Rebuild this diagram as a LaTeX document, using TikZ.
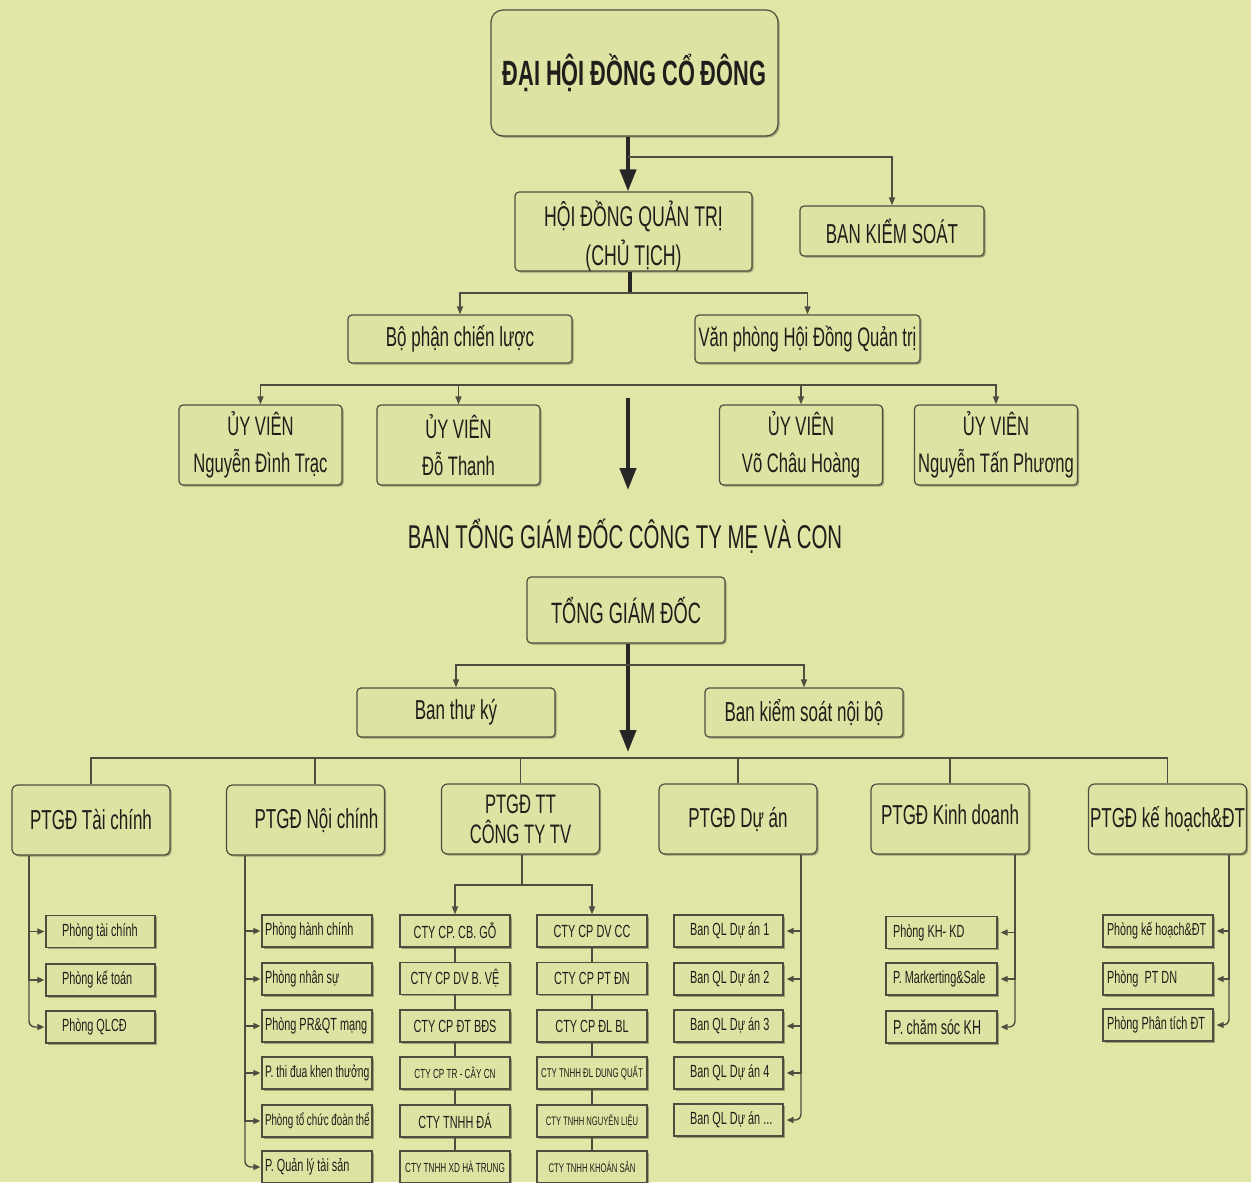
\documentclass[tikz,border=0pt]{standalone}
\usepackage{fontspec}
\setmainfont{Liberation Sans}[FakeStretch=0.62]
\usetikzlibrary{arrows.meta,shadows}
\definecolor{bg}{HTML}{E1E6A7}
\definecolor{bxf}{HTML}{DEE3A3}
\definecolor{ln}{HTML}{4E4E40}
\definecolor{tx}{HTML}{1E1E1A}
\newcommand\lft[2]{\makebox[#1][l]{#2}}
\newcommand\fs[2]{\fontsize{\fpeval{round(#1*1.097,2)}}{#2}\selectfont}
\begin{document}
\begin{tikzpicture}[x=0.5pt,y=-0.5pt,
  box/.style={draw=ln, line width=0.6pt, fill=bxf, text=tx, inner sep=0pt, align=center,
    drop shadow={shadow xshift=0.8pt,shadow yshift=-0.8pt,fill=black,opacity=0.3}},
  rbox/.style={box, rounded corners=2pt},
  big/.style={box, rounded corners=6pt},
  mid/.style={rbox, font=\fs{12.5}{18.5}},
  ptg/.style={box, rounded corners=3pt, minimum width=79pt, minimum height=35pt, font=\fs{12.5}{15}},
  cbox/.style={box, minimum width=55pt, minimum height=16pt, font=\fs{8}{9}},
  lbox/.style={box, minimum height=16pt, font=\fs{8}{9}},
  colA/.style={lbox, inner xsep=8pt},
  colB/.style={lbox, inner xsep=1.5pt},
  colD/.style={lbox, inner xsep=8pt},
  colK/.style={lbox, inner xsep=3.5pt},
  colH/.style={lbox, inner xsep=2pt},
  thickarr/.style={line width=2pt, draw=black!85, -{Triangle[length=11pt,width=8pt]}},
  thickline/.style={line width=2pt, draw=black!85},
  conn/.style={draw=ln, line width=0.7pt},
  arr/.style={conn, -{Triangle[length=4pt,width=3pt]}},
  arrs/.style={conn, -{Triangle[length=3.5pt,width=3pt]}, shorten >=0.5pt}
]
\fill[bg] (0,0) rectangle (1251,1182);
\useasboundingbox (0,0) rectangle (1251,1182);

% ---- top
\node[big, minimum width=143.5pt, minimum height=63pt, font=\bfseries\fs{16}{18}] (dhdc) at (634.5,73) {ĐẠI HỘI ĐỒNG CỔ ĐÔNG};
\node[rbox, minimum width=118.5pt, minimum height=38.5pt, font=\fs{13}{19.5}] (hdqt) at (633.5,231.5) {\rule{0pt}{17pt}HỘI ĐỒNG QUẢN TRỊ\\(CHỦ TỊCH)};
\node[rbox, minimum width=92pt, minimum height=25pt, font=\fs{12.5}{15}] (bks) at (892,231) {BAN KIỂM SOÁT};

\coordinate (a1) at (628,157);
\draw[thickarr] (dhdc.south -| a1) -- (hdqt.north -| a1);
\draw[arr] (a1) -| (bks.north);

\node[mid, minimum width=112pt, minimum height=24pt] (bp) at (460,339) {Bộ phận chiến lược};
\node[mid, minimum width=112.5pt, minimum height=24pt, font=\fs{12.2}{15}] (vp) at (807.5,339) {Văn phòng Hội Đồng Quản trị};

\coordinate (a2) at (630,293);
\draw[thickline] (hdqt.south -| a2) -- (a2);
\draw[arr] (a2) -| (bp.north);
\draw[arr] (a2) -| (vp.north);

\node[mid, minimum width=81.5pt, minimum height=40pt, font=\fs{12.2}{18.5}] (uv1) at (260.5,445) {ỦY VIÊN\\Nguyễn Đình Trạc};
\node[mid, minimum width=81.5pt, minimum height=40pt, font=\fs{12.2}{18.5}] (uv2) at (458.5,445) {ỦY VIÊN\\Đỗ Thanh};
\node[mid, minimum width=81.5pt, minimum height=40pt, font=\fs{12.2}{18.5}] (uv3) at (801,445) {ỦY VIÊN\\Võ Châu Hoàng};
\node[mid, minimum width=81.5pt, minimum height=40pt, font=\fs{12.2}{18.5}] (uv4) at (996,445) {ỦY VIÊN\\Nguyễn Tấn Phương};

\coordinate (a3) at (628,385);
\draw[arr] (a3) -| (uv1.north);
\draw[arr] (a3) -| (uv2.north);
\draw[arr] (a3) -| (uv3.north);
\draw[arr] (a3) -| (uv4.north);

\coordinate (a4) at (628,398);
\coordinate (a5) at (628,490);
\draw[thickarr] (a4) -- (a5);

% ---- middle
\node[text=tx, font=\fs{15}{18}, inner sep=0pt] (title) at (625,536) {BAN TỔNG GIÁM ĐỐC CÔNG TY MẸ VÀ CON};

\node[rbox, minimum width=99pt, minimum height=33pt, font=\fs{13.4}{16}] (tgd) at (626,610) {TỔNG GIÁM ĐỐC};
\node[mid, minimum width=99pt, minimum height=24.5pt] (btk) at (456,712.5) {Ban thư ký};
\node[mid, minimum width=99pt, minimum height=24.5pt] (bksnb) at (804,712.5) {Ban kiểm soát nội bộ};

\coordinate (a6) at (628,665);
\coordinate (a7) at (628,752);
\draw[thickarr] (tgd.south -| a6) -- (a7);
\draw[arr] (a6) -| (btk.north);
\draw[arr] (a6) -| (bksnb.north);

% ---- PTGD row
\node[ptg] (p1) at (91,820) {PTGĐ Tài chính};
\node[ptg] (p2) at (305.5,820) {\hspace*{11pt}PTGĐ Nội chính};
\node[ptg, font=\fs{12.2}{15}] (p3) at (520.5,819) {PTGĐ TT\\CÔNG TY TV};
\node[ptg] (p4) at (738,819) {PTGĐ Dự án};
\node[ptg] (p5) at (950,819) {PTGĐ Kinh doanh\rule[-4pt]{0pt}{0pt}};
\node[ptg] (p6) at (1167.5,819) {PTGĐ kế hoạch\&ĐT};

\coordinate (b0) at (628,758);
\draw[conn] (b0) -| (p1.north);
\draw[conn] (b0) -| ([xshift=4.75pt]p2.north);
\draw[conn] (b0) -| (p3.north);
\draw[conn] (b0) -| (p4.north);
\draw[conn] (b0) -| (p5.north);
\draw[conn] (b0) -| (p6.north);

% ---- column A
\coordinate (vA) at (29,0);
\node[colA] (tc1) at (100.5,931.5) {\lft{38.5pt}{Phòng tài chính}};
\node[colA] (tc2) at (100.5,980) {\lft{38.5pt}{Phòng kế toán}};
\node[colA] (tc3) at (100.5,1027) {\lft{38.5pt}{Phòng QLCĐ}};
\draw[arrs] (p1.south -| vA) |- (tc1.west);
\draw[arrs] (p1.south -| vA) |- (tc2.west);
\draw[arrs, rounded corners=3pt] (p1.south -| vA) |- (tc3.west);

% ---- column B
\coordinate (vB) at (245,0);
\node[colB] (nc1) at (317,931) {\lft{52pt}{Phòng hành chính}};
\node[colB] (nc2) at (317,979) {\lft{52pt}{Phòng nhân sự}};
\node[colB] (nc3) at (317,1026) {\lft{52pt}{Phòng PR\&QT mạng}};
\node[colB, font=\fs{7.6}{9}] (nc4) at (317,1073) {\lft{52pt}{P. thi đua khen thưởng}};
\node[colB, font=\fs{7.2}{9}] (nc5) at (317,1121) {\lft{52pt}{Phòng tổ chức đoàn thể}};
\node[colB] (nc6) at (317,1167) {\lft{52pt}{P. Quản lý tài sản}};
\foreach \i in {1,...,5}{\draw[arrs] (p2.south -| vB) |- (nc\i.west);}
\draw[arrs, rounded corners=3pt] (p2.south -| vB) |- (nc6.west);

% ---- CTY columns
\node[cbox] (c1) at (455,931) {CTY CP. CB. GỖ};
\node[cbox] (c2) at (455,978.5) {CTY CP DV B. VỆ};
\node[cbox] (c3) at (455,1026) {CTY CP ĐT BĐS};
\node[cbox, font=\fs{6}{8}] (c4) at (455,1073) {CTY CP TR - CÂY CN};
\node[cbox] (c5) at (455,1121) {CTY TNHH ĐÁ};
\node[cbox, font=\fs{6}{8}] (c6) at (455,1167) {CTY TNHH XD HÀ TRUNG};
\node[cbox] (d1) at (592,931) {CTY CP DV CC};
\node[cbox] (d2) at (592,978.5) {CTY CP PT ĐN};
\node[cbox] (d3) at (592,1026) {CTY CP ĐL BL};
\node[cbox, font=\fs{5.8}{8}] (d4) at (592,1073) {CTY TNHH ĐL DUNG QUẤT};
\node[cbox, font=\fs{5.6}{8}] (d5) at (592,1121) {CTY TNHH NGUYÊN LIỆU};
\node[cbox, font=\fs{5.7}{8}] (d6) at (592,1167) {CTY TNHH KHOÁN SẢN};
\coordinate (jT) at (522,885);
\draw[conn] (p3.south -| jT) -- (jT);
\draw[arr] (jT) -| (c1.north);
\draw[arr] (jT) -| (d1.north);
\foreach \i/\j in {1/2,2/3,3/4,4/5,5/6}{
  \draw[conn] (c\i.south) -- (c\j.north);
  \draw[conn] (d\i.south) -- (d\j.north);
}

% ---- column D
\coordinate (vD) at (801,0);
\node[colD] (da1) at (728.5,931) {\lft{38.5pt}{Ban QL Dự án 1}};
\node[colD] (da2) at (728.5,979) {\lft{38.5pt}{Ban QL Dự án 2}};
\node[colD] (da3) at (728.5,1026) {\lft{38.5pt}{Ban QL Dự án 3}};
\node[colD] (da4) at (728.5,1073) {\lft{38.5pt}{Ban QL Dự án 4}};
\node[colD] (da5) at (728.5,1120) {\lft{38.5pt}{Ban QL Dự án ...}};
\foreach \i in {1,...,4}{\draw[arrs, shorten >=1.5pt] (p4.south -| vD) |- (da\i.east);}
\draw[arrs, shorten >=1.5pt, rounded corners=3pt] (p4.south -| vD) |- (da5.east);

% ---- column K
\coordinate (vK) at (1015,0);
\node[colK] (kd1) at (941.5,932.5) {\lft{48.5pt}{Phòng KH- KD}};
\node[colK] (kd2) at (941.5,979) {\lft{48.5pt}{P. Markerting\&Sale}};
\node[colK, font=\fs{9.2}{10}] (kd3) at (941.5,1027) {\lft{48.5pt}{P. chăm sóc KH}};
\draw[arrs, shorten >=1.5pt] (p5.south -| vK) |- (kd1.east);
\draw[arrs, shorten >=1.5pt] (p5.south -| vK) |- (kd2.east);
\draw[arrs, shorten >=1.5pt, rounded corners=3pt] (p5.south -| vK) |- (kd3.east);

% ---- column H
\coordinate (vH) at (1229,0);
\node[colH, font=\fs{7.9}{9}] (kh1) at (1158,931) {\lft{51pt}{Phòng kế hoạch\&ĐT}};
\node[colH] (kh2) at (1158,979) {\lft{51pt}{Phòng\ \ PT DN}};
\node[colH] (kh3) at (1158,1025) {\lft{51pt}{Phòng Phân tích ĐT}};
\draw[arrs, shorten >=1.5pt] (p6.south -| vH) |- (kh1.east);
\draw[arrs, shorten >=1.5pt] (p6.south -| vH) |- (kh2.east);
\draw[arrs, shorten >=1.5pt, rounded corners=3pt] (p6.south -| vH) |- (kh3.east);
\end{tikzpicture}
\end{document}
